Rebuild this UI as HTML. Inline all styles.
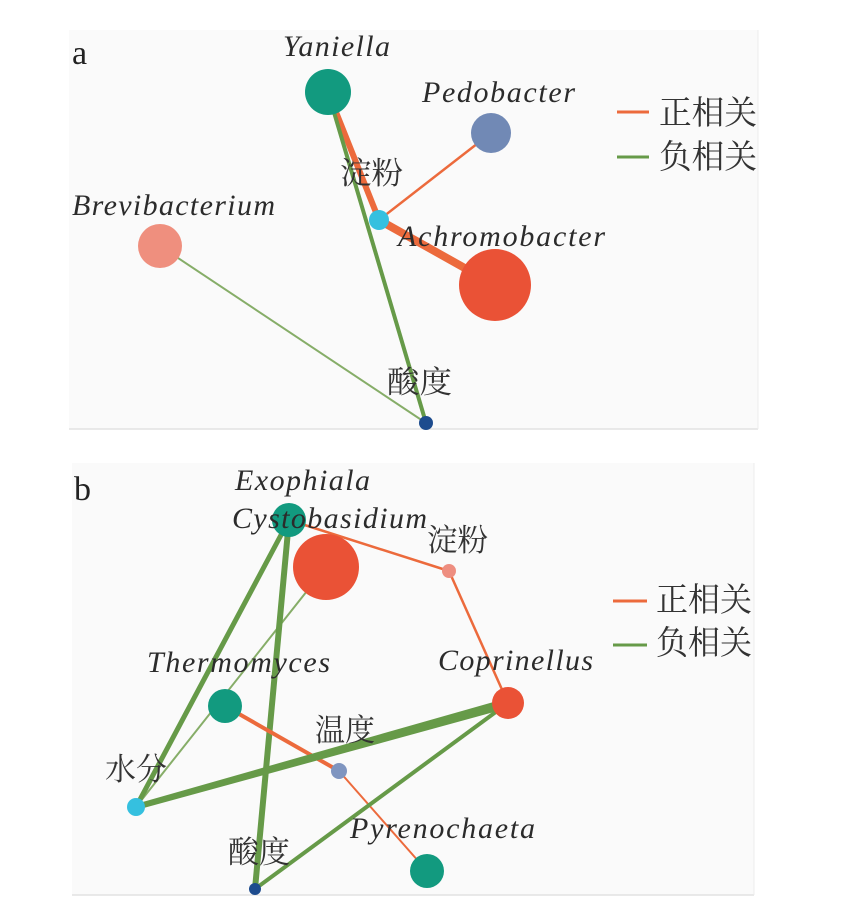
<!DOCTYPE html>
<html>
<head>
<meta charset="utf-8">
<style>
html,body{margin:0;padding:0;background:#ffffff;}
body{width:865px;height:916px;overflow:hidden;}
svg{display:block;}
.lat{font-family:"Liberation Serif",serif;font-style:italic;font-size:30px;fill:#2b2b2b;}
.cjk{font-family:"Liberation Serif","Noto Serif CJK SC","Noto Sans CJK SC",serif;font-size:31px;fill:#333333;}
.leg{font-family:"Liberation Serif","Noto Serif CJK SC","Noto Sans CJK SC",serif;font-size:33px;fill:#333333;}
.pl{font-family:"Liberation Serif",serif;font-size:34px;fill:#222222;}
</style>
</head>
<body>
<svg width="865" height="916" viewBox="0 0 865 916" xmlns="http://www.w3.org/2000/svg">
  <!-- Panel a background -->
  <rect x="69" y="30" width="689" height="399" fill="#fafafa"/>
  <line x1="69" y1="429" x2="758" y2="429" stroke="#e2e2e2" stroke-width="1.5"/>
  <line x1="758" y1="30" x2="758" y2="429" stroke="#ececec" stroke-width="1"/>

  <!-- Panel b background -->
  <rect x="72" y="463" width="682" height="432" fill="#fafafa"/>
  <line x1="72" y1="895" x2="754" y2="895" stroke="#e2e2e2" stroke-width="1.5"/>
  <line x1="754" y1="463" x2="754" y2="895" stroke="#ececec" stroke-width="1"/>

  <!-- ===== Panel a edges ===== -->
  <line x1="160" y1="246" x2="426" y2="423" stroke="#86ad68" stroke-width="2"/>
  <line x1="328" y1="92" x2="379" y2="220" stroke="#ec6a3c" stroke-width="6"/>
  <line x1="379" y1="220" x2="495" y2="285" stroke="#ec6a3c" stroke-width="8"/>
  <line x1="379" y1="220" x2="491" y2="133" stroke="#ec6a3c" stroke-width="2.5"/>
  <line x1="328" y1="92" x2="426" y2="423" stroke="#669a48" stroke-width="4"/>

  <!-- ===== Panel a nodes ===== -->
  <circle cx="328" cy="92" r="23" fill="#129a7f"/>
  <circle cx="491" cy="133" r="20" fill="#7189b5"/>
  <circle cx="379" cy="220" r="10" fill="#35c0df"/>
  <circle cx="495" cy="285" r="36" fill="#ea5236"/>
  <circle cx="160" cy="246" r="22" fill="#ef8f7e"/>
  <circle cx="426" cy="423" r="7" fill="#1d4c8e"/>

  <!-- ===== Panel a labels ===== -->
  <text class="pl" x="72" y="64">a</text>
  <text class="lat" x="283" y="56" textLength="107" lengthAdjust="spacing">Yaniella</text>
  <text class="lat" x="422" y="102" textLength="153" lengthAdjust="spacing">Pedobacter</text>
  <text class="lat" x="72" y="215" textLength="203" lengthAdjust="spacing">Brevibacterium</text>
  <text class="lat" x="398" y="246" textLength="207" lengthAdjust="spacing">Achromobacter</text>
  <text class="cjk" x="340" y="184" textLength="63" lengthAdjust="spacingAndGlyphs">淀粉</text>
  <text class="cjk" x="387" y="393" textLength="65" lengthAdjust="spacingAndGlyphs">酸度</text>

  <!-- Legend a -->
  <line x1="617" y1="112" x2="649" y2="112" stroke="#ec6a3c" stroke-width="3"/>
  <line x1="617" y1="157" x2="649" y2="157" stroke="#669a48" stroke-width="3"/>
  <text class="leg" x="659" y="124" textLength="98" lengthAdjust="spacingAndGlyphs">正相关</text>
  <text class="leg" x="659" y="168" textLength="98" lengthAdjust="spacingAndGlyphs">负相关</text>

  <!-- ===== Panel b edges ===== -->
  <line x1="326" y1="567" x2="136" y2="807" stroke="#86ad68" stroke-width="2"/>
  <line x1="289" y1="520" x2="449" y2="571" stroke="#ec6a3c" stroke-width="2.5"/>
  <line x1="449" y1="571" x2="508" y2="703" stroke="#ec6a3c" stroke-width="2.5"/>
  <line x1="289" y1="520" x2="136" y2="807" stroke="#669a48" stroke-width="5"/>
  <line x1="289" y1="520" x2="255" y2="889" stroke="#669a48" stroke-width="6"/>
  <line x1="225" y1="706" x2="339" y2="771" stroke="#ec6a3c" stroke-width="4"/>
  <line x1="339" y1="771" x2="427" y2="871" stroke="#ec6a3c" stroke-width="2"/>
  <polygon points="135.2,804.1 506.7,698.2 509.3,707.8 136.8,809.9" fill="#669a48"/>
  <line x1="255" y1="889" x2="508" y2="703" stroke="#669a48" stroke-width="4"/>

  <!-- ===== Panel b nodes ===== -->
  <circle cx="289" cy="520" r="17" fill="#129a7f"/>
  <circle cx="326" cy="567" r="33" fill="#ea5236"/>
  <circle cx="449" cy="571" r="7" fill="#ee8e80"/>
  <circle cx="508" cy="703" r="16" fill="#ea5236"/>
  <circle cx="225" cy="706" r="17" fill="#129a7f"/>
  <circle cx="339" cy="771" r="8" fill="#7f95c0"/>
  <circle cx="136" cy="807" r="9" fill="#35c0df"/>
  <circle cx="255" cy="889" r="6" fill="#1d4c8e"/>
  <circle cx="427" cy="871" r="17" fill="#129a7f"/>

  <!-- ===== Panel b labels ===== -->
  <text class="pl" x="74" y="500">b</text>
  <text class="lat" x="235" y="490" textLength="135" lengthAdjust="spacing">Exophiala</text>
  <text class="lat" x="232" y="528" textLength="195" lengthAdjust="spacing">Cystobasidium</text>
  <text class="cjk" x="427" y="551" textLength="61" lengthAdjust="spacingAndGlyphs">淀粉</text>
  <text class="lat" x="147" y="672" textLength="183" lengthAdjust="spacing">Thermomyces</text>
  <text class="lat" x="438" y="670" textLength="155" lengthAdjust="spacing">Coprinellus</text>
  <text class="cjk" x="315" y="741" textLength="60" lengthAdjust="spacingAndGlyphs">温度</text>
  <text class="cjk" x="105" y="780" textLength="62" lengthAdjust="spacingAndGlyphs">水分</text>
  <text class="lat" x="350" y="838" textLength="185" lengthAdjust="spacing">Pyrenochaeta</text>
  <text class="cjk" x="228" y="863" textLength="62" lengthAdjust="spacingAndGlyphs">酸度</text>

  <!-- Legend b -->
  <line x1="613" y1="601" x2="647" y2="601" stroke="#ec6a3c" stroke-width="3"/>
  <line x1="613" y1="645" x2="647" y2="645" stroke="#669a48" stroke-width="3"/>
  <text class="leg" x="656" y="611" textLength="96" lengthAdjust="spacingAndGlyphs">正相关</text>
  <text class="leg" x="656" y="654" textLength="96" lengthAdjust="spacingAndGlyphs">负相关</text>
</svg>
</body>
</html>
